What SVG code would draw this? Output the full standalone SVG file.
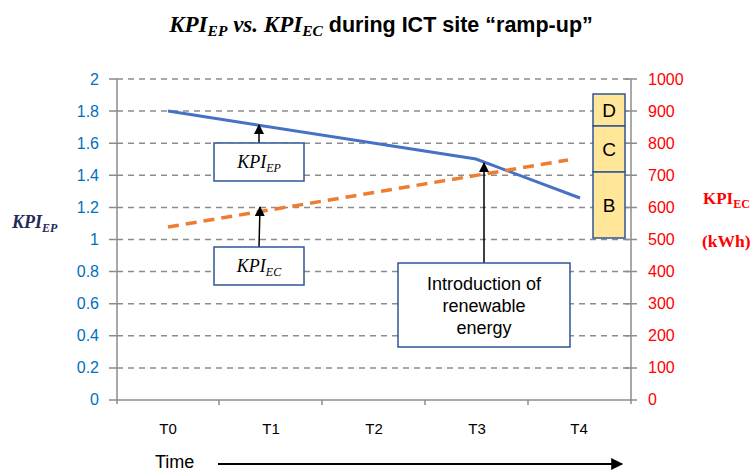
<svg xmlns="http://www.w3.org/2000/svg" width="754" height="473" viewBox="0 0 754 473">
<defs>
<marker id="ah" viewBox="0 0 10 10" refX="9" refY="5" markerWidth="10" markerHeight="10" markerUnits="userSpaceOnUse" orient="auto"><path d="M0,0 L10,5 L0,10 z" fill="#000"/></marker>
<marker id="ah2" viewBox="0 0 10 10" refX="9" refY="5" markerWidth="14" markerHeight="12" markerUnits="userSpaceOnUse" orient="auto"><path d="M0,0 L10,5 L0,10 z" fill="#000"/></marker>
<style>
.grid{stroke:#8c8c8c;stroke-width:1.5;stroke-dasharray:6,5;fill:none}
.axis{stroke:#8c8c8c;stroke-width:1.5;fill:none}
.ly{font-family:"Liberation Sans",Arial,sans-serif;font-size:16px;fill:#0070C0;text-anchor:end}
.ry{font-family:"Liberation Sans",Arial,sans-serif;font-size:16px;fill:#FF0000}
.tx{font-family:"Liberation Sans",Arial,sans-serif;font-size:15px;fill:#000;text-anchor:middle}
.box{fill:#fff;stroke:#2F5597;stroke-width:1.5}
.tbox{fill:#FFE699;stroke:#2F5597;stroke-width:1.5}
.tl{font-family:"Liberation Serif","Times New Roman",serif;font-style:italic;font-size:18px;fill:#000;text-anchor:middle}
.arr{stroke:#000;stroke-width:1.5;fill:none;marker-end:url(#ah)}
.big{font-family:"Liberation Sans",Arial,sans-serif;font-size:19px;fill:#000;text-anchor:middle}
</style>
</defs>
<text x="381" y="32" text-anchor="middle" font-weight="bold"><tspan font-family="Liberation Serif,serif" font-style="italic" font-size="23">KPI<tspan font-size="15.5" dy="4">EP</tspan><tspan dy="-4"> vs. KPI</tspan><tspan font-size="15.5" dy="4">EC</tspan></tspan><tspan font-family="Liberation Sans,Arial,sans-serif" font-size="21.5" dy="-4"> during ICT site “ramp-up”</tspan></text>
<g id="grid">
<line class="grid" x1="117" y1="79" x2="631" y2="79"/>
<line class="grid" x1="117" y1="111.1" x2="631" y2="111.1"/>
<line class="grid" x1="117" y1="143.2" x2="631" y2="143.2"/>
<line class="grid" x1="117" y1="175.3" x2="631" y2="175.3"/>
<line class="grid" x1="117" y1="207.4" x2="631" y2="207.4"/>
<line class="grid" x1="117" y1="239.5" x2="631" y2="239.5"/>
<line class="grid" x1="117" y1="271.6" x2="631" y2="271.6"/>
<line class="grid" x1="117" y1="303.7" x2="631" y2="303.7"/>
<line class="grid" x1="117" y1="335.8" x2="631" y2="335.8"/>
<line class="grid" x1="117" y1="367.9" x2="631" y2="367.9"/>
</g>
<g id="axes">
<line class="axis" x1="117" y1="79" x2="117" y2="404"/>
<line class="axis" x1="631" y1="79" x2="631" y2="404"/>
<line class="axis" x1="109" y1="400" x2="637" y2="400"/>
<path class="axis" d="M109,79H117M109,111.1H117M109,143.2H117M109,175.3H117M109,207.4H117M109,239.5H117M109,271.6H117M109,303.7H117M109,335.8H117M109,367.9H117"/>
<path class="axis" d="M625,79H637M625,111.1H637M625,143.2H637M625,175.3H637M625,207.4H637M625,239.5H637M625,271.6H637M625,303.7H637M625,335.8H637M625,367.9H637"/>
<path class="axis" d="M219,400V405M322,400V405M425,400V405M528,400V405"/>
</g>
<g id="leftlabels">
<text class="ly" x="99" y="85">2</text>
<text class="ly" x="99" y="117">1.8</text>
<text class="ly" x="99" y="149">1.6</text>
<text class="ly" x="99" y="181">1.4</text>
<text class="ly" x="99" y="213">1.2</text>
<text class="ly" x="99" y="245">1</text>
<text class="ly" x="99" y="277">0.8</text>
<text class="ly" x="99" y="309">0.6</text>
<text class="ly" x="99" y="341">0.4</text>
<text class="ly" x="99" y="373">0.2</text>
<text class="ly" x="99" y="405">0</text>
</g>
<g id="rightlabels">
<text class="ry" x="648" y="85">1000</text>
<text class="ry" x="648" y="117">900</text>
<text class="ry" x="648" y="149">800</text>
<text class="ry" x="648" y="181">700</text>
<text class="ry" x="648" y="213">600</text>
<text class="ry" x="648" y="245">500</text>
<text class="ry" x="648" y="277">400</text>
<text class="ry" x="648" y="309">300</text>
<text class="ry" x="648" y="341">200</text>
<text class="ry" x="648" y="373">100</text>
<text class="ry" x="648" y="405">0</text>
</g>
<g id="xlabels">
<text class="tx" x="168" y="434">T0</text>
<text class="tx" x="271" y="434">T1</text>
<text class="tx" x="374" y="434">T2</text>
<text class="tx" x="477" y="434">T3</text>
<text class="tx" x="579" y="434">T4</text>
</g>
<text x="12" y="228" font-family="Liberation Serif,serif" font-weight="bold" font-style="italic" font-size="18" fill="#1F2A5C">KPI<tspan font-size="12" dy="4">EP</tspan></text>
<text x="703" y="204" font-family="Liberation Serif,serif" font-weight="bold" font-size="17" fill="#FF0000">KPI<tspan font-size="12" dy="4">EC</tspan></text>
<text x="702" y="247" font-family="Liberation Serif,serif" font-weight="bold" font-size="17.5" fill="#FF0000">(kWh)</text>
<g id="series">
<polyline points="168,111 476,159 580,198" fill="none" stroke="#4472C4" stroke-width="3"/>
<line x1="168" y1="227" x2="568" y2="160" stroke="#ED7D31" stroke-width="3.5" stroke-dasharray="11,7"/>
</g>
<g id="classes">
<rect class="tbox" x="593" y="94" width="32" height="32"/>
<rect class="tbox" x="593" y="126" width="32" height="46"/>
<rect class="tbox" x="593" y="172" width="32" height="66"/>
<text class="big" x="609" y="117">D</text>
<text class="big" x="609" y="156">C</text>
<text class="big" x="609" y="212">B</text>
</g>
<g id="connectors">
<line class="arr" x1="259" y1="143" x2="259" y2="125"/>
<line class="arr" x1="259" y1="247" x2="260" y2="207"/>
<line class="arr" x1="484" y1="263" x2="484" y2="163"/>
<line x1="218" y1="464" x2="622" y2="464" stroke="#000" stroke-width="2" marker-end="url(#ah2)"/>
</g>
<g id="kpiep-box">
<rect class="box" x="214" y="143" width="90" height="38"/>
<text class="tl" x="259" y="168">KPI<tspan font-size="12" dy="4">EP</tspan></text>
</g>
<g id="kpiec-box">
<rect class="box" x="214" y="247" width="90" height="38"/>
<text class="tl" x="259" y="272">KPI<tspan font-size="12" dy="4">EC</tspan></text>
</g>
<g id="intro-box">
<rect class="box" x="398" y="263" width="172" height="84"/>
<text font-family="Liberation Sans,Arial,sans-serif" font-size="18" text-anchor="middle" fill="#000"><tspan x="484" y="290">Introduction of</tspan><tspan x="484" y="312">renewable</tspan><tspan x="484" y="334">energy</tspan></text>
</g>
<text x="155" y="468" font-family="Liberation Sans,Arial,sans-serif" font-size="18" fill="#000">Time</text>
</svg>
